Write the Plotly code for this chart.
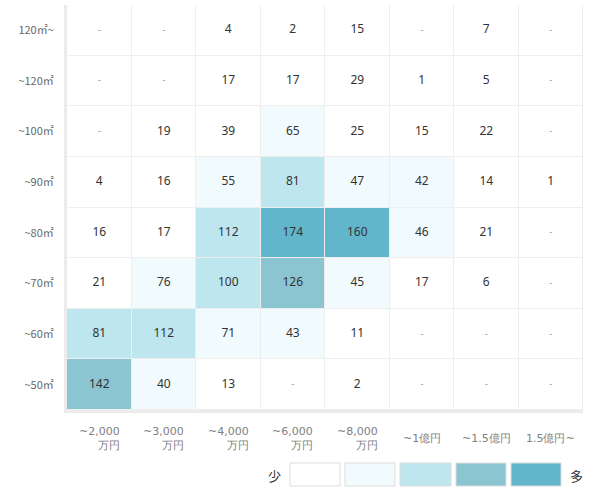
import plotly.graph_objects as go

x_labels = ["~2,000<br>万円", "~3,000<br>万円", "~4,000<br>万円", "~6,000<br>万円",
            "~8,000<br>万円", "~1億円", "~1.5億円", "1.5億円~"]
y_labels = ["120㎡~", "~120㎡", "~100㎡", "~90㎡", "~80㎡", "~70㎡", "~60㎡", "~50㎡"]

row_120p = [None, None, 4, 2, 15, None, 7, None]
row_120 = [None, None, 17, 17, 29, 1, 5, None]
row_100 = [None, 19, 39, 65, 25, 15, 22, None]
row_90 = [4, 16, 55, 81, 47, 42, 14, 1]
row_80 = [16, 17, 112, 174, 160, 46, 21, None]
row_70 = [21, 76, 100, 126, 45, 17, 6, None]
row_60 = [81, 112, 71, 43, 11, None, None, None]
row_50 = [142, 40, 13, None, 2, None, None, None]
values = [row_120p, row_120, row_100, row_90, row_80, row_70, row_60, row_50]

bin_size = 40
level_colors = ["#ffffff", "#f1fbfd", "#bde6ef", "#8cc5d2", "#61b6cb"]

def level(v):
    if v is None:
        return 0
    return min(int(v // bin_size), 4)

z = [[level(v) for v in row] for row in values]
n = len(level_colors)
colorscale = []
for i, c in enumerate(level_colors):
    colorscale.append([i / n, c])
    colorscale.append([(i + 1) / n, c])

fig = go.Figure()
fig.add_trace(go.Heatmap(
    z=z, x=list(range(len(x_labels))), y=list(range(len(y_labels))),
    colorscale=colorscale, zmin=-0.5, zmax=4.5, showscale=False,
    xgap=1, ygap=1, hoverinfo="skip"))

tx, ty, tt, tc, ts = [], [], [], [], []
for r, row in enumerate(values):
    for c, v in enumerate(row):
        tx.append(c)
        ty.append(r)
        if v is None:
            tt.append("-")
            tc.append("#aaaaaa")
            ts.append(10)
        else:
            tt.append(str(v))
            tc.append("#333333")
            ts.append(12)
fig.add_trace(go.Scatter(x=tx, y=ty, mode="text", text=tt,
                         textfont=dict(color=tc, size=ts, family="Noto Sans"),
                         hoverinfo="skip", showlegend=False))

L, R, T, B = 67, 583, 5, 410
W, H = 598, 494

def px(xp):
    return (xp - L) / (R - L)

def py(yp):
    return (B - yp) / (B - T)

for i, lab in enumerate(x_labels):
    fig.add_annotation(x=i, y=py(439), xref="x", yref="paper", text=lab,
                       showarrow=False, align="right", xanchor="center", yanchor="middle",
                       font=dict(family="DejaVu Sans", size=11, color="#808080"))

# legend boxes
boxes = [(290, 340), (345, 395), (400, 451), (456, 506), (511, 561)]
for (x0, x1), col in zip(boxes, level_colors):
    fig.add_shape(type="rect", xref="paper", yref="paper",
                  x0=px(x0), x1=px(x1), y0=py(486), y1=py(463),
                  fillcolor=col, line=dict(color="#dddddd", width=1))
fig.add_annotation(x=px(274), y=py(475), xref="paper", yref="paper", text="少",
                   showarrow=False, xanchor="center", yanchor="middle",
                   font=dict(family="Noto Sans CJK JP", size=13, color="#333"))
fig.add_annotation(x=px(576), y=py(475), xref="paper", yref="paper", text="多",
                   showarrow=False, xanchor="center", yanchor="middle",
                   font=dict(family="Noto Sans CJK JP", size=13, color="#333"))

fig.update_xaxes(range=[-0.5, 7.5], showticklabels=False, ticks="", showgrid=False,
                 zeroline=False, showline=True, linewidth=3, linecolor="#ebebeb")
fig.update_yaxes(range=[7.5, -0.5], tickvals=list(range(len(y_labels))), ticktext=y_labels,
                 ticks="", showgrid=False, zeroline=False, showline=True, linewidth=3,
                 linecolor="#ebebeb", ticklabelstandoff=8,
                 tickfont=dict(family="Noto Sans CJK JP", size=11, color="#666666"))
fig.update_layout(width=W, height=H, margin=dict(l=L, r=W - R, t=T, b=H - B),
                  plot_bgcolor="#eeeeee", paper_bgcolor="#ffffff", showlegend=False)
fig.write_html("out.html")
